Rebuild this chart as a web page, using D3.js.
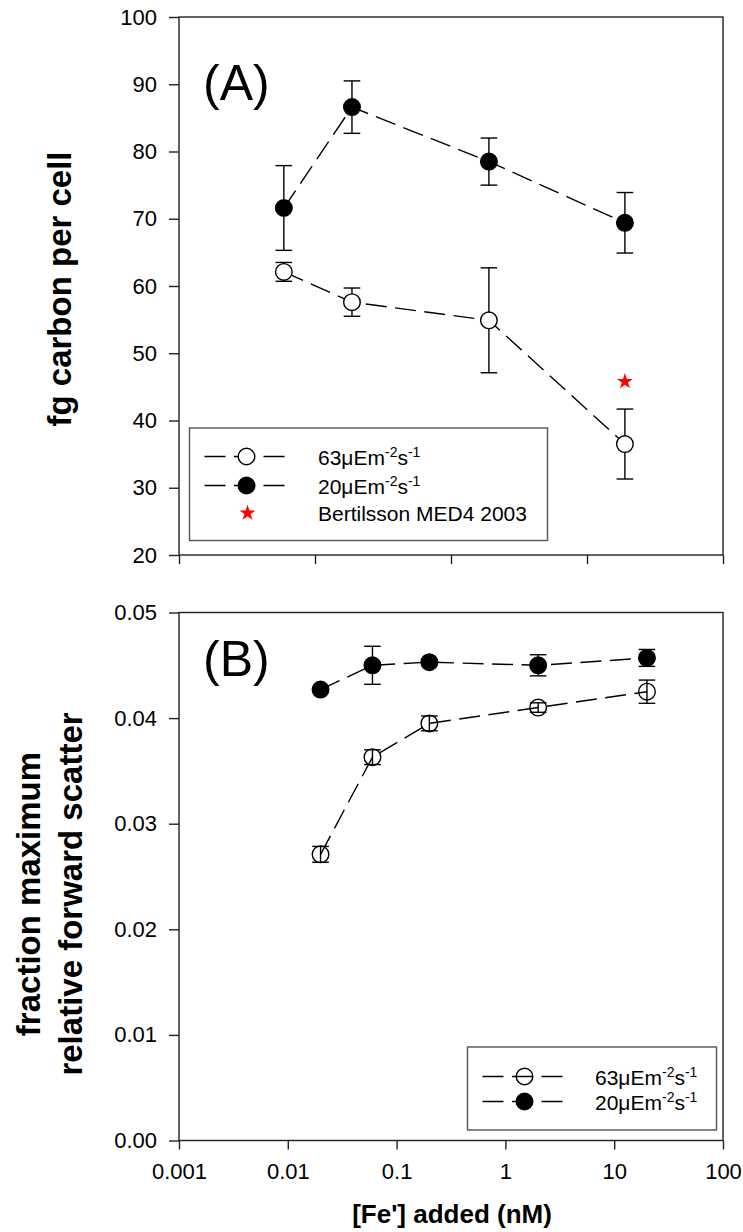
<!DOCTYPE html>
<html><head><meta charset="utf-8">
<script src="https://cdn.jsdelivr.net/npm/d3@7"></script>
<style>
body{margin:0;background:#fff}
svg{display:block}
text{font-family:"Liberation Sans",Arial,Helvetica,sans-serif;fill:#000}
</style>
</head><body>
<svg id="chart" width="743" height="1232"></svg>
<script>
// ---------------- data ----------------
// Panel A: fg carbon per cell vs [Fe'] added
const feA = [0.059, 0.187, 1.9, 19.0];
const carbon63 = [62.1, 57.6, 54.9, 36.5];
const carbon63Err = [1.4, 2.1, 7.8, 5.2];
const carbon20 = [71.6, 86.6, 78.5, 69.4];
const carbon20Err = [6.3, 3.9, 3.5, 4.5];
const bertilssonFe = [19.0];
const bertilssonCarbon = [45.8];
const xTicksA = [0.01, 0.1, 1, 10, 100];
const yTicksA = [20, 30, 40, 50, 60, 70, 80, 90, 100];

// Panel B: fraction maximum relative forward scatter
const feB = [0.02, 0.06, 0.2, 2, 20];
const fsc63 = [0.0271, 0.0363, 0.0395, 0.0410, 0.0425];
const fsc63Err = [0.00075, 0.0007, 0.0007, 0.00045, 0.0011];
const fsc20 = [0.0427, 0.0450, 0.0453, 0.0450, 0.0457];
const fsc20Err = [0.0001, 0.0018, 0.0002, 0.0010, 0.0008];
const xTicksB = [0.001, 0.01, 0.1, 1, 10, 100];
const xTickLabelsB = ["0.001", "0.01", "0.1", "1", "10", "100"];
const yTicksB = [0, 0.01, 0.02, 0.03, 0.04, 0.05];
const yTickLabelsB = ["0.00", "0.01", "0.02", "0.03", "0.04", "0.05"];

const lightLevels = ["63", "20"];
const starLabel = "Bertilsson MED4 2003";

// ---------------- layout ----------------
const svg = d3.select("#chart");
const L = 179, R = 723;
const A = {top: 17, bottom: 555};
const B = {top: 612.5, bottom: 1140.5};
const AXIS = "#222";
const R_MARK = 8.3, CAP = 8.3, SW = 1.4, DASH = "21,8.5";

const xA = d3.scaleLog().domain([0.01, 100]).range([L, R]);
const yA = d3.scaleLinear().domain([20, 100]).range([A.bottom, A.top]);
const xB = d3.scaleLog().domain([0.001, 100]).range([L, R]);
const yB = d3.scaleLinear().domain([0, 0.05]).range([B.bottom, B.top]);

function frame(top, bottom) {
  svg.append("rect").attr("x", L).attr("y", top)
    .attr("width", R - L).attr("height", bottom - top)
    .attr("fill", "none").attr("stroke", AXIS).attr("stroke-width", 1.4);
}

function styleAxis(g, fs) {
  g.select(".domain").remove();
  g.selectAll(".tick line").attr("stroke", AXIS).attr("stroke-width", 1.4);
  g.selectAll(".tick text").attr("font-size", fs).attr("fill", "#000")
    .style("font-family", '"Liberation Sans",Arial,sans-serif');
}

// ---- panel A axes
frame(A.top, A.bottom);
svg.append("g").attr("transform", `translate(${L},0)`)
  .call(d3.axisLeft(yA).tickValues(yTicksA).tickSize(10).tickPadding(12).tickFormat(d3.format("d")))
  .call(g => styleAxis(g, 22));
svg.append("g").attr("transform", `translate(0,${A.bottom})`)
  .call(d3.axisBottom(xA).tickValues(xTicksA).tickSize(9).tickFormat(() => ""))
  .call(g => styleAxis(g, 22));

// ---- panel B axes
frame(B.top, B.bottom);
svg.append("g").attr("transform", `translate(${L},0)`)
  .call(d3.axisLeft(yB).tickValues(yTicksB).tickSize(10).tickPadding(12)
    .tickFormat((d, i) => yTickLabelsB[i]))
  .call(g => styleAxis(g, 22));
svg.append("g").attr("transform", `translate(0,${B.bottom})`)
  .call(d3.axisBottom(xB).tickValues(xTicksB).tickSize(9).tickPadding(14)
    .tickFormat((d, i) => xTickLabelsB[i]))
  .call(g => styleAxis(g, 22));

// ---- axis titles
svg.append("text").attr("transform", "translate(71,289) rotate(-90)")
  .attr("text-anchor", "middle").attr("font-size", 33).attr("font-weight", "bold")
  .text("fg carbon per cell");
const tb = svg.append("text").attr("transform", "translate(40,894) rotate(-90)")
  .attr("text-anchor", "middle").attr("font-size", 33).attr("font-weight", "bold");
tb.append("tspan").attr("x", 0).attr("dy", 0).text("fraction maximum");
tb.append("tspan").attr("x", 0).attr("dy", 42).text("relative forward scatter");
svg.append("text").attr("x", 452).attr("y", 1223)
  .attr("text-anchor", "middle").attr("font-size", 26).attr("font-weight", "bold")
  .text("[Fe'] added (nM)");

// ---- panel labels
svg.append("text").attr("x", 203).attr("y", 100).attr("font-size", 50).text("(A)");
svg.append("text").attr("x", 203).attr("y", 676).attr("font-size", 50).text("(B)");

// ---- series drawing
function series(xs, ys, errs, x, y, fill, clipTop) {
  const pts = xs.map((d, i) => ({x: d, y: ys[i], e: errs[i]}));
  const g = svg.append("g");
  g.append("path").datum(pts)
    .attr("d", d3.line().x(d => x(d.x)).y(d => y(d.y)))
    .attr("fill", "none").attr("stroke", "#000").attr("stroke-width", SW)
    .attr("stroke-dasharray", DASH);
  const eb = g.selectAll("g.eb").data(pts).join("g");
  eb.append("line")
    .attr("x1", d => x(d.x)).attr("x2", d => x(d.x))
    .attr("y1", d => y(d.y - d.e)).attr("y2", d => y(d.y + d.e))
    .attr("stroke", "#000").attr("stroke-width", SW);
  [-1, 1].forEach(s => {
    eb.append("line")
      .attr("x1", d => x(d.x) - CAP).attr("x2", d => x(d.x) + CAP)
      .attr("y1", d => y(d.y + s * d.e)).attr("y2", d => y(d.y + s * d.e))
      .attr("stroke", "#000").attr("stroke-width", SW);
  });
  g.selectAll("circle").data(pts).join("circle")
    .attr("cx", d => x(d.x)).attr("cy", d => y(d.y)).attr("r", R_MARK)
    .attr("fill", fill).attr("stroke", "#000").attr("stroke-width", SW);
}

// panel A
series(feA, carbon63, carbon63Err, xA, yA, "#fff");
series(feA, carbon20, carbon20Err, xA, yA, "#000");
svg.selectAll("path.star").data(bertilssonFe).join("path").attr("class", "star")
  .attr("transform", (d, i) => `translate(${xA(d)},${yA(bertilssonCarbon[i])})`)
  .attr("d", d3.symbol(d3.symbolStar, 80)).attr("fill", "#f00");

// panel B
series(feB, fsc63, fsc63Err, xB, yB, "none");
series(feB, fsc20, fsc20Err, xB, yB, "#000");

// ---- legends
function lightLabel(g, x, y, level) {
  const t = g.append("text").attr("x", x).attr("y", y).attr("font-size", 21);
  t.append("tspan").text(level + "\u03BCEm");
  t.append("tspan").attr("font-size", 14).attr("dy", -8).text("-2");
  t.append("tspan").attr("dy", 8).text("s");
  t.append("tspan").attr("font-size", 14).attr("dy", -8).text("-1");
}
function legendRow(g, cx, cy, fill, label, tx) {
  g.append("line").attr("x1", cx - 42).attr("x2", cx + 40).attr("y1", cy).attr("y2", cy)
    .attr("stroke", "#000").attr("stroke-width", SW).attr("stroke-dasharray", DASH);
  g.append("circle").attr("cx", cx).attr("cy", cy).attr("r", R_MARK)
    .attr("fill", fill).attr("stroke", "#000").attr("stroke-width", SW);
  lightLabel(g, tx, cy + 8, label);
}

const legA = svg.append("g");
legA.append("rect").attr("x", 189.5).attr("y", 428).attr("width", 358).attr("height", 112.5)
  .attr("fill", "#fff").attr("stroke", "#555").attr("stroke-width", 1.4);
legendRow(legA, 246.5, 456.5, "#fff", lightLevels[0], 318);
legendRow(legA, 246.5, 485.5, "#000", lightLevels[1], 318);
legA.append("path").attr("transform", "translate(247.5,513)")
  .attr("d", d3.symbol(d3.symbolStar, 80)).attr("fill", "#f00");
legA.append("text").attr("x", 318).attr("y", 521).attr("font-size", 21).text(starLabel);

const legB = svg.append("g");
legB.append("rect").attr("x", 467.5).attr("y", 1047).attr("width", 249).attr("height", 83)
  .attr("fill", "#fff").attr("stroke", "#555").attr("stroke-width", 1.4);
legendRow(legB, 524.5, 1076.5, "none", lightLevels[0], 595);
legendRow(legB, 524.5, 1101.5, "#000", lightLevels[1], 595);
</script>
</body></html>
